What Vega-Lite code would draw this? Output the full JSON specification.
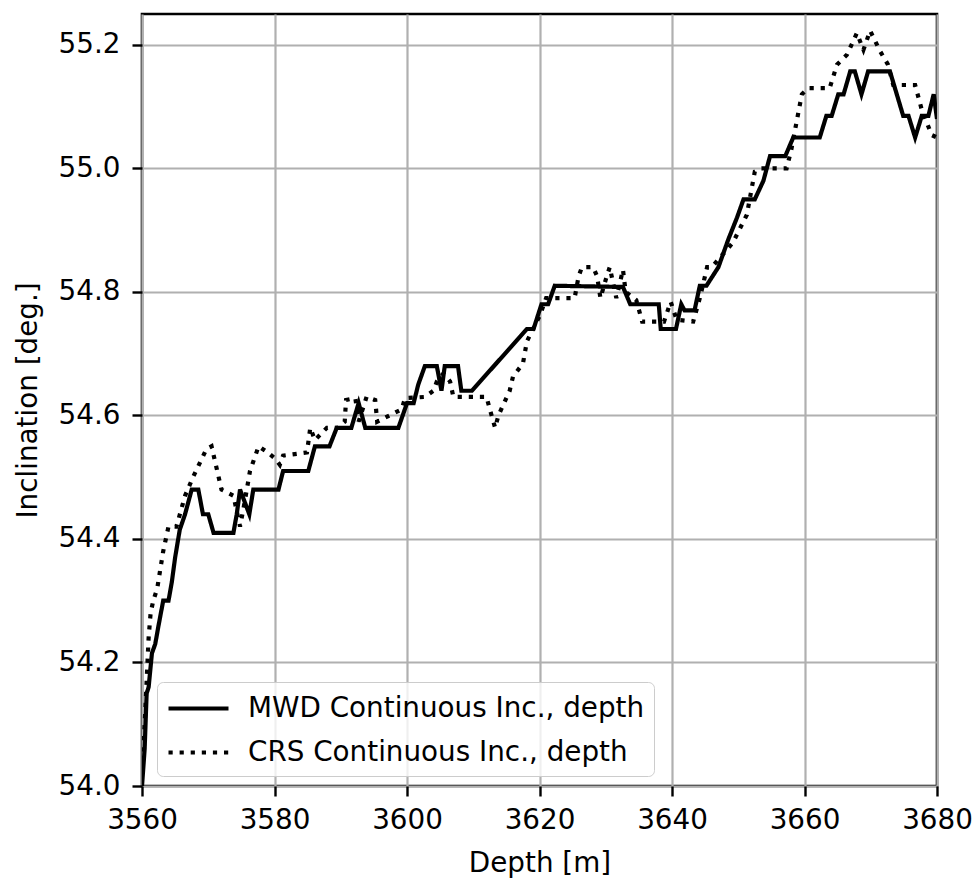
{
  "$schema": "https://vega.github.io/schema/vega-lite/v6.json",
  "width": 795,
  "height": 772,
  "autosize": {"type": "none"},
  "padding": {"left": 142, "top": 14, "right": 37, "bottom": 93},
  "background": "white",
  "config": {
    "font": "DejaVu Sans",
    "view": {"stroke": "black", "strokeWidth": 2.6},
    "axis": {
      "domain": false,
      "grid": true,
      "gridColor": "#b0b0b0",
      "gridWidth": 2.2,
      "tickColor": "black",
      "tickWidth": 2.4,
      "tickSize": 10,
      "labelFont": "DejaVu Sans",
      "labelFontSize": 27.8,
      "labelColor": "black",
      "titleFont": "DejaVu Sans",
      "titleFontSize": 27.8,
      "titleFontWeight": "normal",
      "titleColor": "black",
      "labelOverlap": false,
      "labelBound": false,
      "labelFlush": false
    }
  },
  "datasets": {
    "mwd": [
      {"depth": 3560.0, "inc": 54.00},
      {"depth": 3560.4, "inc": 54.06},
      {"depth": 3560.7, "inc": 54.15},
      {"depth": 3561.0, "inc": 54.16},
      {"depth": 3561.5, "inc": 54.215},
      {"depth": 3562.0, "inc": 54.23},
      {"depth": 3562.5, "inc": 54.26},
      {"depth": 3563.2, "inc": 54.30},
      {"depth": 3564.0, "inc": 54.30},
      {"depth": 3564.5, "inc": 54.33},
      {"depth": 3565.0, "inc": 54.37},
      {"depth": 3565.7, "inc": 54.415},
      {"depth": 3566.5, "inc": 54.44},
      {"depth": 3567.5, "inc": 54.48},
      {"depth": 3568.5, "inc": 54.48},
      {"depth": 3569.2, "inc": 54.44},
      {"depth": 3570.0, "inc": 54.44},
      {"depth": 3570.8, "inc": 54.41},
      {"depth": 3573.8, "inc": 54.41},
      {"depth": 3574.3, "inc": 54.44},
      {"depth": 3574.8, "inc": 54.48},
      {"depth": 3575.5, "inc": 54.46},
      {"depth": 3576.2, "inc": 54.44},
      {"depth": 3576.8, "inc": 54.48},
      {"depth": 3580.6, "inc": 54.48},
      {"depth": 3581.3, "inc": 54.51},
      {"depth": 3585.1, "inc": 54.51},
      {"depth": 3586.1, "inc": 54.55},
      {"depth": 3588.3, "inc": 54.55},
      {"depth": 3589.4, "inc": 54.58},
      {"depth": 3591.6, "inc": 54.58},
      {"depth": 3592.7, "inc": 54.62},
      {"depth": 3593.7, "inc": 54.58},
      {"depth": 3598.7, "inc": 54.58},
      {"depth": 3600.0, "inc": 54.62},
      {"depth": 3601.0, "inc": 54.62},
      {"depth": 3601.7, "inc": 54.65},
      {"depth": 3602.7, "inc": 54.68},
      {"depth": 3604.5, "inc": 54.68},
      {"depth": 3605.2, "inc": 54.64},
      {"depth": 3605.7, "inc": 54.68},
      {"depth": 3607.7, "inc": 54.68},
      {"depth": 3608.2, "inc": 54.64},
      {"depth": 3609.8, "inc": 54.64},
      {"depth": 3618.1, "inc": 54.74},
      {"depth": 3619.1, "inc": 54.74},
      {"depth": 3620.3, "inc": 54.78},
      {"depth": 3621.3, "inc": 54.78},
      {"depth": 3622.3, "inc": 54.81},
      {"depth": 3632.6, "inc": 54.808},
      {"depth": 3633.7, "inc": 54.78},
      {"depth": 3638.0, "inc": 54.78},
      {"depth": 3638.3, "inc": 54.74},
      {"depth": 3640.6, "inc": 54.74},
      {"depth": 3641.4, "inc": 54.78},
      {"depth": 3641.9, "inc": 54.77},
      {"depth": 3643.4, "inc": 54.77},
      {"depth": 3644.2, "inc": 54.81},
      {"depth": 3645.2, "inc": 54.81},
      {"depth": 3647.0, "inc": 54.84},
      {"depth": 3648.5, "inc": 54.885},
      {"depth": 3649.8, "inc": 54.92},
      {"depth": 3650.8, "inc": 54.95},
      {"depth": 3652.5, "inc": 54.95},
      {"depth": 3653.8, "inc": 54.98},
      {"depth": 3654.8, "inc": 55.02},
      {"depth": 3657.1, "inc": 55.02},
      {"depth": 3658.3, "inc": 55.05},
      {"depth": 3662.3, "inc": 55.05},
      {"depth": 3663.3, "inc": 55.085},
      {"depth": 3664.1, "inc": 55.085},
      {"depth": 3665.1, "inc": 55.12},
      {"depth": 3665.9, "inc": 55.12},
      {"depth": 3666.9, "inc": 55.157},
      {"depth": 3667.6, "inc": 55.157},
      {"depth": 3668.6, "inc": 55.12},
      {"depth": 3669.6, "inc": 55.157},
      {"depth": 3672.9, "inc": 55.157},
      {"depth": 3674.9, "inc": 55.085},
      {"depth": 3675.7, "inc": 55.085},
      {"depth": 3676.7, "inc": 55.05},
      {"depth": 3677.7, "inc": 55.085},
      {"depth": 3678.7, "inc": 55.085},
      {"depth": 3679.5, "inc": 55.12},
      {"depth": 3680.0, "inc": 55.08}
    ],
    "crs": [
      {"depth": 3560.0, "inc": 54.02},
      {"depth": 3560.4, "inc": 54.10},
      {"depth": 3560.7, "inc": 54.17},
      {"depth": 3561.0, "inc": 54.24},
      {"depth": 3561.3, "inc": 54.28},
      {"depth": 3561.7, "inc": 54.30},
      {"depth": 3562.3, "inc": 54.32},
      {"depth": 3563.2, "inc": 54.38},
      {"depth": 3564.0, "inc": 54.42},
      {"depth": 3565.2, "inc": 54.42},
      {"depth": 3566.5, "inc": 54.47},
      {"depth": 3567.7, "inc": 54.50},
      {"depth": 3569.7, "inc": 54.545},
      {"depth": 3570.5, "inc": 54.55},
      {"depth": 3572.0, "inc": 54.48},
      {"depth": 3573.8, "inc": 54.47},
      {"depth": 3574.8, "inc": 54.42},
      {"depth": 3575.5, "inc": 54.46},
      {"depth": 3576.3, "inc": 54.51},
      {"depth": 3577.6, "inc": 54.55},
      {"depth": 3579.0, "inc": 54.54},
      {"depth": 3580.1, "inc": 54.53},
      {"depth": 3580.8, "inc": 54.52},
      {"depth": 3581.3, "inc": 54.535},
      {"depth": 3584.9, "inc": 54.54},
      {"depth": 3585.4, "inc": 54.58},
      {"depth": 3586.1, "inc": 54.56},
      {"depth": 3587.9, "inc": 54.58},
      {"depth": 3589.5, "inc": 54.58},
      {"depth": 3590.6, "inc": 54.59},
      {"depth": 3590.8, "inc": 54.625},
      {"depth": 3592.2, "inc": 54.628},
      {"depth": 3592.7, "inc": 54.59},
      {"depth": 3593.9, "inc": 54.63},
      {"depth": 3595.2, "inc": 54.625},
      {"depth": 3595.5, "inc": 54.59},
      {"depth": 3599.2, "inc": 54.61},
      {"depth": 3599.7, "inc": 54.628},
      {"depth": 3602.7, "inc": 54.63},
      {"depth": 3604.0, "inc": 54.64},
      {"depth": 3604.5, "inc": 54.655},
      {"depth": 3605.5, "inc": 54.668},
      {"depth": 3606.5, "inc": 54.655},
      {"depth": 3607.0, "inc": 54.63},
      {"depth": 3612.0, "inc": 54.63},
      {"depth": 3612.5, "inc": 54.61},
      {"depth": 3613.3, "inc": 54.58},
      {"depth": 3613.8, "inc": 54.60},
      {"depth": 3615.5, "inc": 54.64},
      {"depth": 3616.0, "inc": 54.663},
      {"depth": 3617.5, "inc": 54.684},
      {"depth": 3618.1, "inc": 54.72},
      {"depth": 3620.1, "inc": 54.763},
      {"depth": 3621.0, "inc": 54.79},
      {"depth": 3625.3, "inc": 54.79},
      {"depth": 3625.9, "inc": 54.825},
      {"depth": 3626.4, "inc": 54.84},
      {"depth": 3628.1, "inc": 54.84},
      {"depth": 3628.7, "inc": 54.825},
      {"depth": 3629.2, "inc": 54.79},
      {"depth": 3630.0, "inc": 54.82},
      {"depth": 3630.6, "inc": 54.84},
      {"depth": 3631.6, "inc": 54.79},
      {"depth": 3632.6, "inc": 54.836},
      {"depth": 3633.0, "inc": 54.80},
      {"depth": 3634.6, "inc": 54.787},
      {"depth": 3635.5, "inc": 54.752},
      {"depth": 3638.8, "inc": 54.752},
      {"depth": 3639.8, "inc": 54.784},
      {"depth": 3640.7, "inc": 54.755},
      {"depth": 3643.2, "inc": 54.752},
      {"depth": 3644.2, "inc": 54.79},
      {"depth": 3645.3, "inc": 54.84},
      {"depth": 3646.0, "inc": 54.84},
      {"depth": 3649.2, "inc": 54.88},
      {"depth": 3651.3, "inc": 54.925},
      {"depth": 3652.5, "inc": 54.995},
      {"depth": 3653.3, "inc": 55.0},
      {"depth": 3657.3, "inc": 55.0},
      {"depth": 3658.0, "inc": 55.03},
      {"depth": 3659.6, "inc": 55.12},
      {"depth": 3660.6, "inc": 55.13},
      {"depth": 3663.8, "inc": 55.13},
      {"depth": 3664.9, "inc": 55.168},
      {"depth": 3666.4, "inc": 55.184},
      {"depth": 3667.9, "inc": 55.219},
      {"depth": 3668.9, "inc": 55.192},
      {"depth": 3669.9, "inc": 55.223},
      {"depth": 3671.4, "inc": 55.19},
      {"depth": 3672.6, "inc": 55.168},
      {"depth": 3673.4, "inc": 55.135},
      {"depth": 3676.7, "inc": 55.135},
      {"depth": 3677.7, "inc": 55.095},
      {"depth": 3679.2, "inc": 55.054},
      {"depth": 3680.0, "inc": 55.05}
    ]
  },
  "layer": [
    {
      "data": {"name": "mwd"},
      "transform": [{"calculate": "'MWD Continuous Inc., depth'", "as": "series"}],
      "mark": {"type": "line", "color": "black", "strokeWidth": 4.2, "clip": true},
      "encoding": {
        "x": {"field": "depth", "type": "quantitative"},
        "y": {"field": "inc", "type": "quantitative"},
        "strokeDash": {"field": "series", "type": "nominal"}
      }
    },
    {
      "data": {"name": "crs"},
      "transform": [{"calculate": "'CRS Continuous Inc., depth'", "as": "series"}],
      "mark": {"type": "line", "color": "black", "strokeWidth": 4.2, "clip": true},
      "encoding": {
        "x": {"field": "depth", "type": "quantitative"},
        "y": {"field": "inc", "type": "quantitative"},
        "strokeDash": {"field": "series", "type": "nominal"}
      }
    }
  ],
  "encoding": {
    "x": {
      "field": "depth",
      "type": "quantitative",
      "scale": {"domain": [3560, 3680], "nice": false, "zero": false},
      "axis": {"title": "Depth [m]", "values": [3560, 3580, 3600, 3620, 3640, 3660, 3680], "format": "d", "labelPadding": 10, "titlePadding": 16}
    },
    "y": {
      "field": "inc",
      "type": "quantitative",
      "scale": {"domain": [54.0, 55.25], "nice": false, "zero": false},
      "axis": {"title": "Inclination [deg.]", "values": [54.0, 54.2, 54.4, 54.6, 54.8, 55.0, 55.2], "format": ".1f", "labelPadding": 12, "titlePadding": 16}
    },
    "strokeDash": {
      "field": "series",
      "type": "nominal",
      "scale": {
        "domain": ["MWD Continuous Inc., depth", "CRS Continuous Inc., depth"],
        "range": [[1, 0], [4.2, 6.9]]
      },
      "legend": {
        "title": null,
        "orient": "none",
        "legendX": 15,
        "legendY": 668,
        "padding": 9,
        "fillColor": "rgba(255,255,255,0.8)",
        "strokeColor": "#cccccc",
        "cornerRadius": 6,
        "symbolType": "M-1,0H3",
        "symbolSize": 900,
        "symbolStrokeWidth": 4.2,
        "symbolStrokeColor": "black",
        "symbolFillColor": "transparent",
        "labelFontSize": 27.8,
        "labelFont": "DejaVu Sans",
        "labelColor": "black",
        "labelOffset": 47,
        "rowPadding": 12,
        "labelLimit": 600
      }
    }
  }
}
